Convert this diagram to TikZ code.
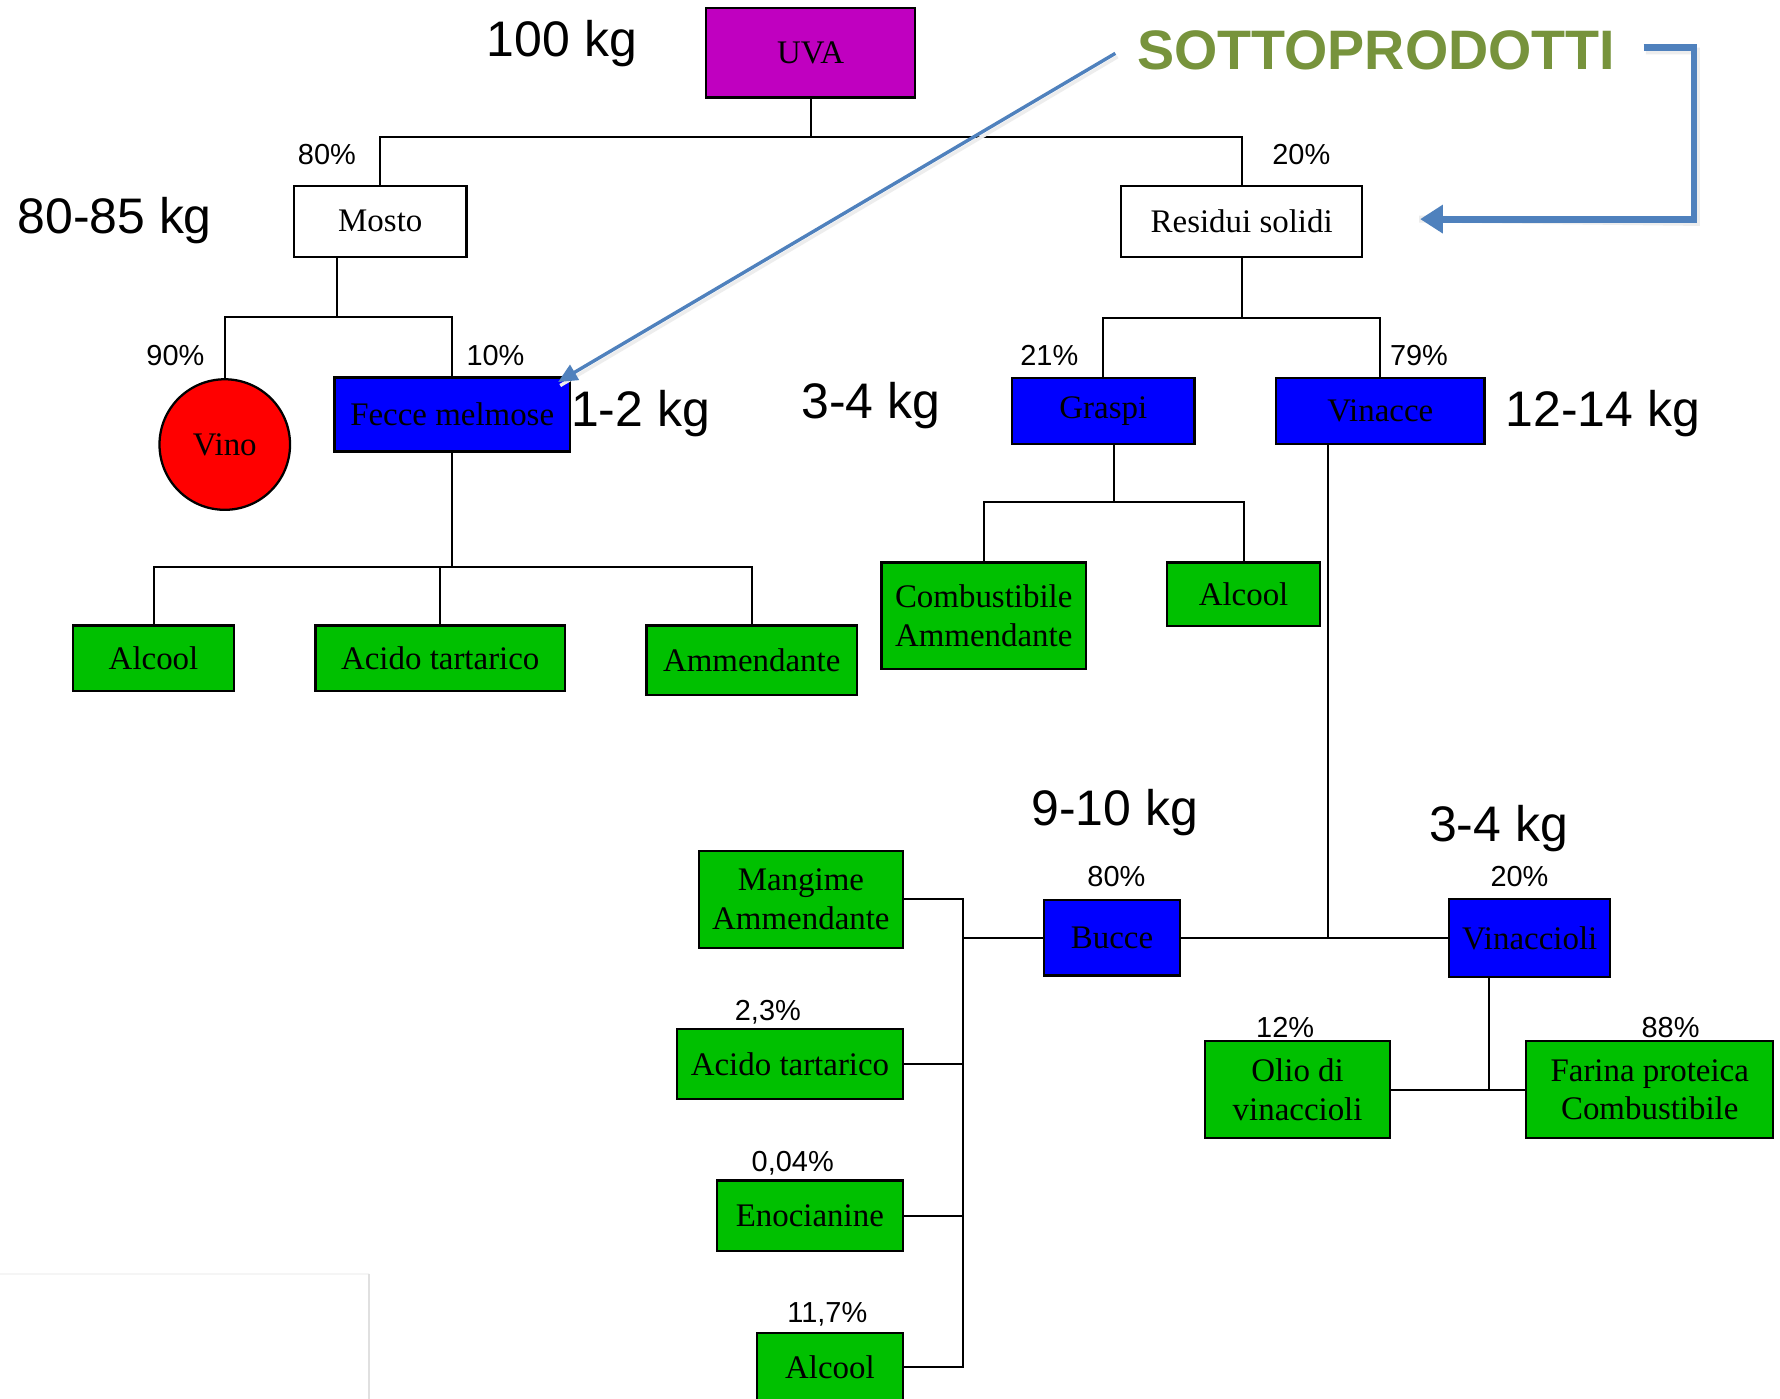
\documentclass[tikz,border=0pt]{standalone}
\usepackage{fontspec}
\setmainfont{Liberation Serif}
\newfontfamily\arialf{Liberation Sans}
\usetikzlibrary{arrows.meta}

\definecolor{uvacol}{RGB}{192,0,192}
\definecolor{bluefill}{RGB}{0,0,255}
\definecolor{greenfill}{RGB}{0,192,0}
\definecolor{redfill}{RGB}{255,0,0}
\definecolor{arrowblue}{RGB}{79,129,189}
\definecolor{olivetext}{RGB}{119,147,60}

\tikzset{
  boxbase/.style={draw=black, line width=2pt, inner sep=0pt, align=center,
    font=\fontsize{29}{34}\selectfont},
  boxuva/.style={boxbase, fill=uvacol},
  boxwhite/.style={boxbase, fill=white},
  boxblue/.style={boxbase, fill=bluefill},
  boxgreen/.style={boxbase, fill=greenfill},
  pctlabel/.style={anchor=base, inner sep=0pt, font=\arialf\fontsize{25.5}{30}\selectfont},
  kglabel/.style={anchor=base, inner sep=0pt, font=\arialf\fontsize{44}{50}\selectfont},
  treeline/.style={draw=black, line width=1.8pt},
  callout/.style={draw=arrowblue, line width=3pt, line join=miter},
  calloutshadow/.style={draw=black!7, line join=miter},
}

\begin{document}
\begin{tikzpicture}[x=1pt,y=-1pt]
\clip (0,0) rectangle (1568,1232);
\fill[white] (0,0) rectangle (1568,1232);

% faint sheet edge, lower left
\draw[black!4, line width=1.5pt] (0,1122) -- (325,1122);
\draw[black!12, line width=2pt] (325,1122) -- (325,1232);

% ---- nodes ----
\node[boxuva, minimum width=184, minimum height=79] (uva) at (714,46.5) {UVA};
\node[boxwhite, minimum width=152, minimum height=62.5] (mosto) at (335,194.85) {Mosto};
\node[boxwhite, minimum width=212.4, minimum height=62.5] (residui) at (1093.8,194.85) {Residui solidi};

\node[boxbase, circle, fill=redfill, minimum size=115] (vino) at (198,391.6) {Vino};
\node[boxblue, minimum width=207.3, minimum height=65.2] (fecce) at (398.35,365.2) {Fecce melmose};
\node[boxblue, minimum width=160.8, minimum height=58.4] (graspi) at (971.9,361.9) {Graspi};
\node[boxblue, minimum width=183.6, minimum height=58.4] (vinacce) at (1215.9,361.9) {Vinacce};

\node[boxgreen, minimum width=142.1, minimum height=57.4] (alcA) at (135.25,579.7) {Alcool};
\node[boxgreen, minimum width=219.6, minimum height=57.4] (acidoA) at (387.8,579.7) {Acido tartarico};
\node[boxgreen, minimum width=185.6, minimum height=61.2] (ammA) at (662.2,581.6) {Ammendante};
\node[boxgreen, minimum width=180.3, minimum height=93.9] (comb) at (866.55,542.35) {Combustibile\\Ammendante};
\node[boxgreen, minimum width=134.3, minimum height=56.3] (alcB) at (1095.45,523.55) {Alcool};

\node[boxgreen, minimum width=179.4, minimum height=85.5] (mangime) at (705.5,792.25) {Mangime\\Ammendante};
\node[boxblue, minimum width=119.6, minimum height=66.2] (bucce) at (979.6,826.2) {Bucce};
\node[boxblue, minimum width=141.8, minimum height=69] (vinaccioli) at (1347.5,826.2) {Vinaccioli};
\node[boxgreen, minimum width=198.6, minimum height=61.6] (acidoB) at (695.9,937.5) {Acido tartarico};
\node[boxgreen, minimum width=163.6, minimum height=62.2] (eno) at (713.4,1071.1) {Enocianine};
\node[boxgreen, minimum width=128.2, minimum height=60] (alcC) at (731.1,1204) {Alcool};
\node[boxgreen, minimum width=163.1, minimum height=85.4] (olio) at (1143.05,960) {Olio di\\vinaccioli};
\node[boxgreen, minimum width=217.5, minimum height=85.4] (farina) at (1453.25,960) {Farina proteica\\Combustibile};

% ---- junction points ----
\coordinate (mj) at (297,279);
\coordinate (gj) at (981,442);
\coordinate (vj) at (1169.6,826.2);
\coordinate (sp) at (848,0);
\coordinate (vcj) at (1312,960);

% ---- tree connectors ----
\draw[treeline] (uva.south) -- ++(0,34) -| (mosto.north);
\draw[treeline] (uva.south) -- ++(0,34) -| (residui.north);

\draw[treeline] (mosto.south -| mj) -- (mj);
\draw[treeline] (vino.north) |- (mj) -| (fecce.north);

\draw[treeline] (fecce.south) -- ++(0,100.5) -| (alcA.north);
\draw[treeline] (fecce.south) -- ++(0,100.5) -| (acidoA.north);
\draw[treeline] (fecce.south) -- ++(0,100.5) -| (ammA.north);

\draw[treeline] (residui.south) -- ++(0,53) -| (graspi.north);
\draw[treeline] (residui.south) -- ++(0,53) -| (vinacce.north);

\draw[treeline] (graspi.south -| gj) -- (gj);
\draw[treeline] (comb.north) |- (gj) -| (alcB.north);

\draw[treeline] (vinacce.south -| vj) -- (vj);
\draw[treeline] (bucce.east) -- (vinaccioli.west);

\draw[treeline] (bucce.west) -- (bucce.west -| sp);
\draw[treeline] (mangime.east) -- (mangime.east -| sp) -- (alcC.east -| sp) -- (alcC.east);
\draw[treeline] (acidoB.east) -- (acidoB.east -| sp);
\draw[treeline] (eno.east) -- (eno.east -| sp);

\draw[treeline] (vinaccioli.south -| vcj) -- (vcj);
\draw[treeline] (olio.east) -- (farina.west);

% ---- percentages ----
\node[pctlabel] (p80a) at (288,145.3) {80\%};
\node[pctlabel] (p20a) at (1146.3,145.3) {20\%};
\node[pctlabel] (p90) at (154.5,322.4) {90\%};
\node[pctlabel] (p10) at (436.5,322.4) {10\%};
\node[pctlabel] (p21) at (924.3,322.4) {21\%};
\node[pctlabel] (p79) at (1250,322.4) {79\%};
\node[pctlabel] (p80b) at (983.4,780.8) {80\%};
\node[pctlabel] (p20b) at (1338.5,781) {20\%};
\node[pctlabel] (p23) at (676.4,899) {2,3\%};
\node[pctlabel] (p004) at (698.3,1032) {0,04\%};
\node[pctlabel] (p117) at (728.8,1164.8) {11,7\%};
\node[pctlabel] (p12) at (1132.1,913.8) {12\%};
\node[pctlabel] (p88) at (1471.6,913.8) {88\%};

% ---- masses ----
\node[kglabel] (k100) at (495,49.9) {100 kg};
\node[kglabel] (k80) at (101,205.4) {80-85 kg};
\node[kglabel] (k12a) at (564.3,375.8) {1-2 kg};
\node[kglabel] (k34a) at (767,368.5) {3-4 kg};
\node[kglabel] (k1214) at (1411.9,375.9) {12-14 kg};
\node[kglabel] (k910) at (981.8,727.3) {9-10 kg};
\node[kglabel] (k34b) at (1320,741.4) {3-4 kg};

% ---- by-products callout ----
\node[anchor=base, inner sep=0pt, text=olivetext,
      font=\arialf\bfseries\fontsize{49}{55}\selectfont] (sotto) at (1212.2,61.1) {SOTTOPRODOTTI};

\coordinate (thinstart) at (982.5,47);
\coordinate (thickstart) at (1447.8,42);
\coordinate (thickcorner) at (1492.3,193);

% thin arrow towards the lees
\draw[calloutshadow, line width=3pt] ([shift={(2,3)}]thinstart) -- ([shift={(-9.5,8)}]fecce.north east);
\draw[callout, -{Triangle[length=17pt,width=15pt]}] (thinstart) -- ([shift={(-11.5,5)}]fecce.north east);

% bent arrow towards the solid residues
\draw[calloutshadow, line width=6pt] ([shift={(2,3)}]thickstart) -| ([shift={(2,3)}]thickcorner) -- ([shift={(52,0)}]residui.east |- thickcorner) -- ++(0,3);
\draw[callout, line width=6pt, -{Triangle[length=20pt,width=24pt]}] (thickstart) -| (thickcorner) -- ([xshift=50]residui.east |- thickcorner);
\end{tikzpicture}
\end{document}
